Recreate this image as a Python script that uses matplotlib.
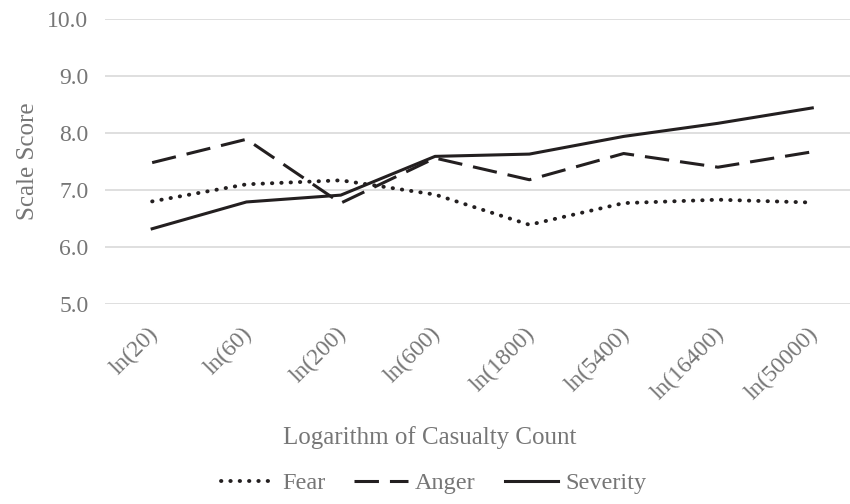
import matplotlib.pyplot as plt
from matplotlib.transforms import ScaledTranslation

plt.rcParams['font.family'] = ['Liberation Serif', 'DejaVu Serif']

categories = ['ln(20)', 'ln(60)', 'ln(200)', 'ln(600)', 'ln(1800)',
              'ln(5400)', 'ln(16400)', 'ln(50000)']
fear = [6.80, 7.10, 7.17, 6.92, 6.39, 6.77, 6.83, 6.78]
anger = [7.48, 7.89, 6.77, 7.56, 7.18, 7.64, 7.40, 7.67]
severity = [6.32, 6.79, 6.91, 7.59, 7.63, 7.94, 8.17, 8.44]
yticks = [5.0, 6.0, 7.0, 8.0, 9.0, 10.0]

gray = '#767676'
ink = '#231f20'
fs = 17

fig = plt.figure(figsize=(8.5, 5.04), dpi=100)
ax = fig.add_axes([105/850, 1 - 304/504, 1 - 105/850, (304 - 19)/504])

x = range(len(categories))
ax.plot(x, fear, color=ink, lw=2.8, linestyle=(0, (0.1, 2.3)),
        dash_capstyle='round', label='Fear', clip_on=False)
ax.plot(x, anger, color=ink, lw=2.2, linestyle=(0, (8, 3.6)),
        label='Anger', clip_on=False)
ax.plot(x, severity, color=ink, lw=2.2, label='Severity', clip_on=False)

ax.set_ylim(5, 10)
ax.set_xlim(-0.5, len(categories) - 0.6)
ax.set_yticks(yticks)
ax.set_yticklabels([f'{v:.1f}' for v in yticks])
ax.set_xticks(list(x))
ax.set_xticklabels(categories, rotation=45, ha='right', va='top',
                   rotation_mode='anchor')
ax.tick_params(axis='both', length=0, labelsize=fs, colors=gray)
ax.tick_params(axis='x', pad=14)
ax.tick_params(axis='y', pad=12)
shift = ScaledTranslation(-5/100, 0, fig.dpi_scale_trans)
for lbl in ax.get_xticklabels():
    lbl.set_transform(lbl.get_transform() + shift)
ax.grid(axis='y', color='#d9d9d9', lw=1.2)
ax.set_axisbelow(True)
for s in ax.spines.values():
    s.set_visible(False)

ax.set_ylabel('Scale Score', fontsize=18, color=gray, labelpad=6)
fig.text(430/850, 1 - 438/504, 'Logarithm of Casualty Count', fontsize=18,
         color=gray, ha='center', va='center')

leg = fig.legend(loc='center', bbox_to_anchor=(434/850, 1 - 483/504), ncol=3,
                 frameon=False, fontsize=17.5, handlelength=2.2,
                 handletextpad=0.3, columnspacing=1.2)
for t in leg.get_texts():
    t.set_color(gray)

fig.savefig('out.png', dpi=100)
